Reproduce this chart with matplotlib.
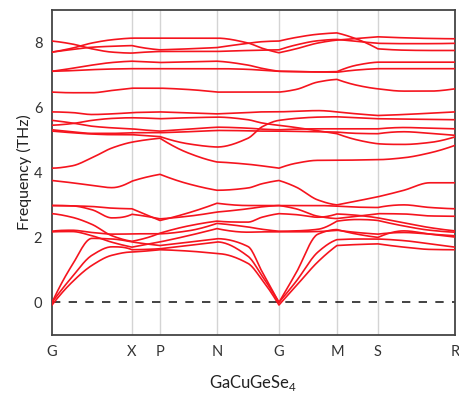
import numpy as np
import matplotlib
matplotlib.use("Agg")
import matplotlib.pyplot as plt

plt.rcParams["font.family"] = ["Lato", "DejaVu Sans"]
plt.rcParams["mathtext.fontset"] = "custom"
plt.rcParams["mathtext.rm"] = "Lato"

# path coordinate of each sampled k-point
k_path = [0, 20, 40, 60, 80, 94, 108, 136, 165, 196, 210, 227,
          244, 266, 285, 305, 326, 352, 378, 403]
# indices of high-symmetry points in k_path
hs_index = [0, 4, 6, 8, 11, 14, 16, 19]
hs_labels = ["G", "X", "P", "N", "G", "M", "S", "R"]

# phonon branches (THz) sampled along k_path
acoustic_1 = [-0.08, 0.62, 1.14, 1.45, 1.55, 1.58, 1.62, 1.58, 1.5, 1.2, 0.7, -0.08,
              0.5, 1.25, 1.75, 1.78, 1.8, 1.7, 1.63, 1.62]
acoustic_2 = [0, 0.78, 1.45, 1.71, 1.62, 1.63, 1.65, 1.75, 1.86, 1.42, 0.82, 0,
              0.64, 1.55, 1.93, 1.95, 1.95, 1.9, 1.8, 1.7]
acoustic_3 = [0, 1.14, 1.97, 1.95, 1.86, 1.8, 1.75, 1.85, 1.96, 1.72, 0.95, 0,
              0.9, 2.1, 2.24, 2.1, 2.0, 2.2, 2.1, 2.01]
optic_low_5 = [2.17, 2.18, 2.05, 1.85, 1.7, 1.78, 1.86, 2.05, 2.27, 2.16, 2.17, 2.17,
               2.17, 2.18, 2.22, 2.15, 2.1, 2.15, 2.1, 2.05]
optic_low_4 = [2.19, 2.22, 2.15, 2.1, 2.11, 2.11, 2.11, 2.2, 2.43, 2.32, 2.25, 2.19,
               2.2, 2.25, 2.5, 2.55, 2.52, 2.35, 2.22, 2.16]
optic_low_3 = [2.73, 2.62, 2.4, 2.05, 1.88, 1.98, 2.13, 2.35, 2.5, 2.47, 2.62, 2.73,
               2.7, 2.62, 2.72, 2.68, 2.6, 2.45, 2.3, 2.2]
optic_low_2 = [2.98, 2.97, 2.85, 2.6, 2.71, 2.65, 2.57, 2.65, 2.78, 2.88, 2.94, 2.98,
               2.88, 2.65, 2.58, 2.65, 2.73, 2.72, 2.66, 2.65]
optic_low_1 = [2.98, 2.97, 2.95, 2.9, 2.88, 2.7, 2.52, 2.75, 3.05, 2.98, 2.98, 2.98,
               2.98, 2.98, 2.96, 2.93, 2.92, 3.0, 2.92, 2.88]
optic_37 = [3.75, 3.68, 3.6, 3.53, 3.73, 3.85, 3.94, 3.65, 3.45, 3.52, 3.65, 3.75,
            3.55, 3.15, 3.0, 3.12, 3.25, 3.45, 3.68, 3.68]
optic_41 = [4.13, 4.2, 4.45, 4.75, 4.93, 5.0, 5.05, 4.6, 4.32, 4.25, 4.2, 4.13,
            4.28, 4.37, 4.37, 4.38, 4.39, 4.45, 4.6, 4.83]
optic_mid_5 = [5.27, 5.22, 5.18, 5.16, 5.16, 5.13, 5.1, 4.88, 4.78, 5.05, 5.4, 5.6,
               5.66, 5.7, 5.71, 5.68, 5.65, 5.64, 5.63, 5.62]
optic_mid_4 = [5.31, 5.25, 5.2, 5.2, 5.22, 5.22, 5.22, 5.25, 5.29, 5.28, 5.27, 5.27,
               5.26, 5.25, 5.24, 5.2, 5.19, 5.25, 5.2, 5.14]
optic_mid_3 = [5.6, 5.52, 5.42, 5.37, 5.34, 5.3, 5.27, 5.33, 5.39, 5.36, 5.33, 5.31,
               5.33, 5.34, 5.34, 5.34, 5.34, 5.38, 5.36, 5.34]
optic_mid_2 = [5.45, 5.5, 5.6, 5.66, 5.68, 5.67, 5.65, 5.68, 5.7, 5.62, 5.52, 5.45,
               5.38, 5.28, 5.19, 5.0, 4.88, 4.86, 4.92, 5.09]
optic_mid_1 = [5.86, 5.84, 5.78, 5.8, 5.84, 5.85, 5.86, 5.83, 5.8, 5.84, 5.86, 5.86,
               5.88, 5.9, 5.86, 5.8, 5.75, 5.78, 5.82, 5.86]
optic_65 = [6.47, 6.45, 6.45, 6.52, 6.59, 6.59, 6.59, 6.55, 6.47, 6.47, 6.47, 6.47,
            6.55, 6.78, 6.86, 6.68, 6.57, 6.5, 6.5, 6.57]
optic_71_a = [7.11, 7.13, 7.16, 7.18, 7.19, 7.19, 7.19, 7.19, 7.19, 7.17, 7.14, 7.11,
              7.1, 7.09, 7.08, 7.15, 7.19, 7.19, 7.19, 7.19]
optic_71_b = [7.11, 7.2, 7.3, 7.38, 7.42, 7.4, 7.38, 7.4, 7.42, 7.3, 7.2, 7.11,
              7.1, 7.09, 7.1, 7.3, 7.39, 7.39, 7.39, 7.39]
optic_top_1 = [7.7, 7.82, 7.98, 8.08, 8.13, 8.13, 8.13, 8.13, 8.13, 7.98, 7.82, 7.68,
               7.8, 7.98, 8.07, 8.12, 8.17, 8.14, 8.12, 8.11]
optic_top_2 = [8.04, 7.95, 7.8, 7.7, 7.67, 7.7, 7.72, 7.72, 7.72, 7.75, 7.76, 7.77,
               7.92, 8.05, 8.09, 8.03, 7.97, 7.96, 7.96, 7.97]
optic_top_3 = [7.7, 7.78, 7.85, 7.88, 7.9, 7.82, 7.77, 7.8, 7.84, 7.97, 8.02, 8.04,
               8.15, 8.25, 8.29, 8.1, 7.8, 7.76, 7.75, 7.75]

branches = [acoustic_1, acoustic_2, acoustic_3, optic_low_5, optic_low_4,
            optic_low_3, optic_low_2, optic_low_1, optic_37, optic_41,
            optic_mid_5, optic_mid_4, optic_mid_3, optic_mid_2, optic_mid_1,
            optic_65, optic_71_a, optic_71_b, optic_top_1, optic_top_2, optic_top_3]


def pchip(x, y, xn):
    """Shape-preserving cubic through (x, y), evaluated at xn."""
    x = np.asarray(x, float)
    y = np.asarray(y, float)
    n = len(x)
    h = np.diff(x)
    d = np.diff(y) / h
    if n == 2:
        return np.interp(xn, x, y)
    m = np.zeros(n)
    for i in range(1, n - 1):
        if d[i - 1] * d[i] > 0:
            w1 = 2 * h[i] + h[i - 1]
            w2 = h[i] + 2 * h[i - 1]
            m[i] = (w1 + w2) / (w1 / d[i - 1] + w2 / d[i])

    def end_slope(h0, h1, d0, d1):
        s = ((2 * h0 + h1) * d0 - h0 * d1) / (h0 + h1)
        if np.sign(s) != np.sign(d0):
            s = 0.0
        elif np.sign(d0) != np.sign(d1) and abs(s) > abs(3 * d0):
            s = 3 * d0
        return s

    m[0] = end_slope(h[0], h[1], d[0], d[1])
    m[-1] = end_slope(h[-1], h[-2], d[-1], d[-2])
    idx = np.clip(np.searchsorted(x, xn, side="right") - 1, 0, n - 2)
    t = (xn - x[idx]) / h[idx]
    h00 = 2 * t**3 - 3 * t**2 + 1
    h10 = t**3 - 2 * t**2 + t
    h01 = -2 * t**3 + 3 * t**2
    h11 = t**3 - t**2
    return (h00 * y[idx] + h10 * h[idx] * m[idx]
            + h01 * y[idx + 1] + h11 * h[idx] * m[idx + 1])


fig = plt.figure(figsize=(4.6, 3.94), dpi=100)
ax = fig.add_axes([0.113, 0.150, 0.876, 0.825])

kp = np.asarray(k_path, float)
hs_pos = [kp[i] for i in hs_index]

for xv in hs_pos[1:-1]:
    ax.axvline(xv, color="#d4d4d4", lw=1.0, zorder=1)
ax.axhline(0, color="#222222", lw=1.2, ls=(0, (5, 5)), zorder=2)

for band in branches:
    xs_all, ys_all = [], []
    for a, b in zip(hs_index[:-1], hs_index[1:]):
        xs = kp[a:b + 1]
        ys = band[a:b + 1]
        xn = np.linspace(xs[0], xs[-1], 60)
        xs_all.append(xn)
        ys_all.append(pchip(xs, ys, xn))
    ax.plot(np.concatenate(xs_all), np.concatenate(ys_all),
            color="#f5141e", lw=1.2, zorder=3)

ax.set_xlim(kp[0], kp[-1])
ax.set_ylim(-1, 9)
ax.set_yticks([0, 2, 4, 6, 8])
ax.set_xticks(hs_pos)
ax.set_xticklabels(hs_labels)
ax.tick_params(length=0, pad=7, labelsize=10.5, colors="#333333")
for sp in ax.spines.values():
    sp.set_color("#444444")
    sp.set_linewidth(1.3)

ax.set_ylabel("Frequency (THz)", fontsize=11.5, color="#222222", labelpad=1)
ax.set_xlabel(r"GaCuGeSe$_{\mathrm{4}}$", fontsize=12, color="#222222", labelpad=10)

fig.savefig("out.png", dpi=100)
